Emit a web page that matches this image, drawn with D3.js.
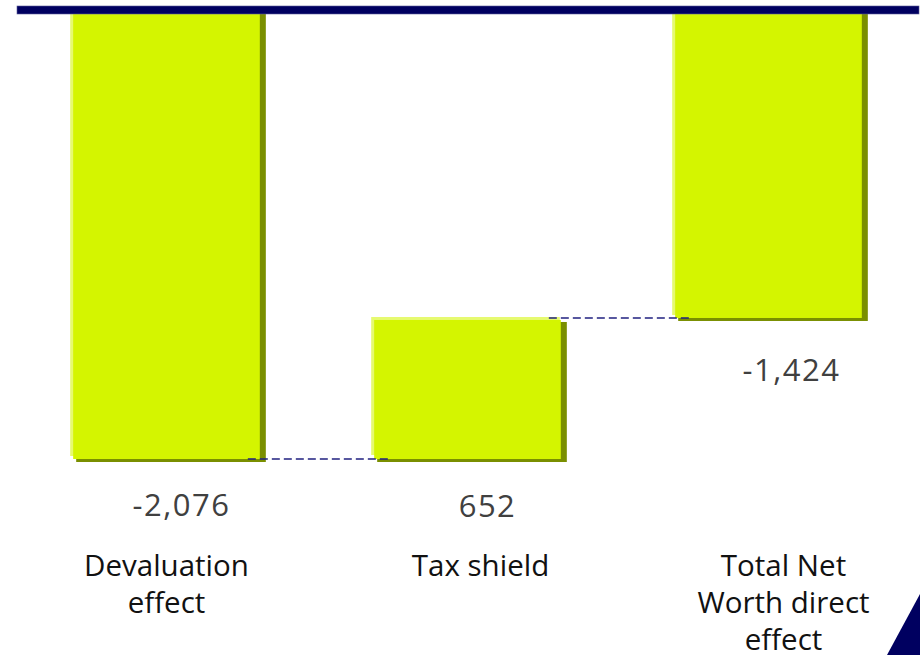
<!DOCTYPE html>
<html>
<head>
<meta charset="utf-8">
<script src="https://cdn.jsdelivr.net/npm/d3@7"></script>
<style>
  body { margin: 0; background: #fff; }
  svg { display: block; }
</style>
</head>
<body>
<div id="chart"></div>
<script>
// waterfall data
const categories = ["Devaluation effect", "Tax shield", "Total Net Worth direct effect"];
const categoryLines = [["Devaluation", "effect"], ["Tax shield"], ["Total Net", "Worth direct", "effect"]];
const barStart = [0, -2076, 0];
const barEnd = [-2076, -1424, -1424];
const valueLabels = ["-2,076", "652", "-1,424"];

const width = 920, height = 655;
// small nudges seen in the original layout
const valueShift = [15, 20, 23];
const valueDy = [57, 58, 63];
const catShift = [0, 13, 15];

const svg = d3.select("#chart").append("svg")
  .attr("width", width).attr("height", height);

const x = d3.scaleBand().domain(categories)
  .range([16, 919]).paddingInner(0.36).paddingOuter(0.18);
const y = d3.scaleLinear().domain([0, -2076]).range([10, 459]);

const green = "#d4f500", light = "#e6fa70", shadow = "#7a8f00";

const bars = svg.append("g").selectAll("g").data(categories).join("g");
const barTop = i => y(Math.max(barStart[i], barEnd[i]));
const barH = i => Math.abs(y(barEnd[i]) - y(barStart[i]));

// shadow
bars.append("rect")
  .attr("x", (d, i) => x(d) + 6)
  .attr("y", (d, i) => barTop(i) + (i == 1 ? 4 : 0))
  .attr("width", x.bandwidth() - 3)
  .attr("height", (d, i) => barH(i) + 3 - (i == 1 ? 4 : 0))
  .attr("fill", shadow);

// light edge
bars.append("rect")
  .attr("x", (d, i) => x(d))
  .attr("y", (d, i) => barTop(i) - (i == 1 ? 1 : 0))
  .attr("width", x.bandwidth() - 4)
  .attr("height", (d, i) => barH(i) - 3)
  .attr("fill", light);

// main face
bars.append("rect")
  .attr("x", (d, i) => x(d) + 3)
  .attr("y", (d, i) => barTop(i) + (i == 1 ? 2 : 0))
  .attr("width", x.bandwidth() - 6)
  .attr("height", (d, i) => barH(i) - (i == 1 ? 2 : 0))
  .attr("fill", green);

// baseline bar on top
svg.append("rect")
  .attr("x", 17).attr("y", 6).attr("width", 902).attr("height", 8)
  .attr("fill", "#000060").attr("stroke", "#5a5a9a").attr("stroke-width", 0.6);

// connectors
const conn = svg.append("g")
  .attr("stroke", "#202080").attr("stroke-width", 1.6)
  .attr("stroke-dasharray", "8,4");
for (let i = 0; i < categories.length - 1; i++) {
  const level = barEnd[i];
  conn.append("line")
    .attr("x1", x(categories[i]) + x.bandwidth() - 15)
    .attr("x2", x(categories[i + 1]) + 18)
    .attr("y1", y(level)).attr("y2", y(level));
}

// value labels under the bars
svg.append("g").selectAll("text").data(valueLabels).join("text")
  .attr("x", (d, i) => x(categories[i]) + x.bandwidth() / 2 + valueShift[i])
  .attr("y", (d, i) => y(Math.min(barStart[i], barEnd[i])) + valueDy[i])
  .attr("text-anchor", "middle")
  .attr("font-family", "'Open Sans', sans-serif")
  .attr("font-size", 31)
  .attr("letter-spacing", 1.5)
  .attr("fill", "#404040")
  .text(d => d);

// category labels
const cats = svg.append("g").selectAll("text").data(categoryLines).join("text")
  .attr("text-anchor", "middle")
  .attr("font-family", "'Open Sans', sans-serif")
  .attr("font-size", 29.5)
  .attr("fill", "#111");
cats.each(function(lines, i) {
  const t = d3.select(this);
  lines.forEach((ln, k) => {
    t.append("tspan")
      .attr("x", x(categories[i]) + x.bandwidth() / 2 + catShift[i])
      .attr("y", 576 + k * 37)
      .text(ln);
  });
});

// corner triangle
svg.append("path")
  .attr("d", "M887,655L920,594L920,655Z")
  .attr("fill", "#000060");
</script>
</body>
</html>
